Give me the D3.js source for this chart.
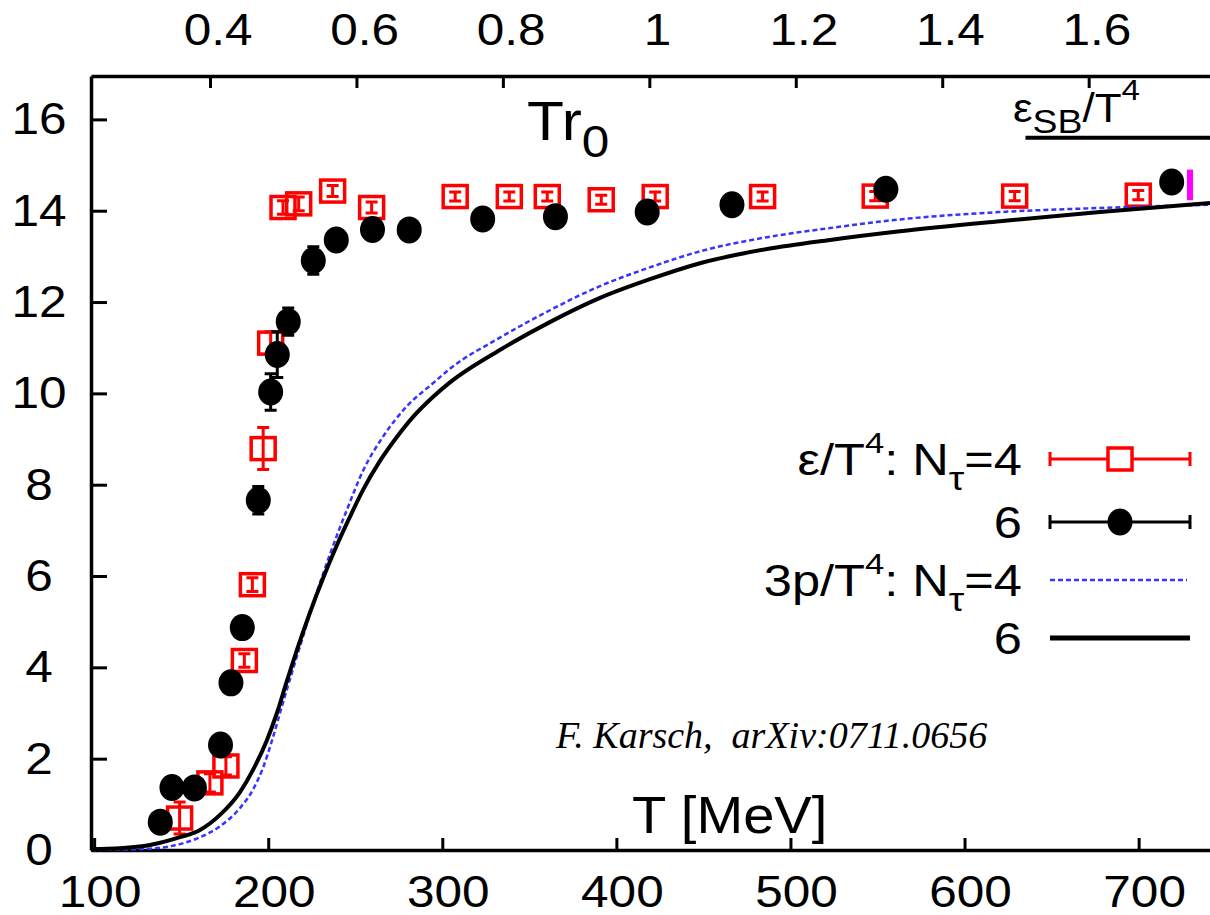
<!DOCTYPE html>
<html>
<head>
<meta charset="utf-8">
<script src="https://cdn.jsdelivr.net/npm/d3@7"></script>
<style>
body { margin: 0; background: #fff; }
svg text { font-family: "Liberation Sans", Arial, sans-serif; fill: #000; }
</style>
</head>
<body>
<script>
var width = 1210;
var height = 915;
var margin = {top: 76, right: 0, bottom: 65, left: 91};
var stretch = 1.1; // the original lettering is a bit wide

// eps/T^4, N_tau=4 (red open squares): T [MeV], value, error
var epsN4T   = [149.1, 166.5, 175.7, 186.3, 190.9, 197.1, 201.4, 208.5, 217.5, 237.0, 259.4, 307.4, 338.5, 360.3, 391.3, 422.3, 484.0, 548.7, 628.8, 699.8];
var epsN4Val = [0.70, 1.47, 1.84, 4.15, 5.81, 8.79, 11.10, 14.07, 14.15, 14.43, 14.07, 14.31, 14.31, 14.31, 14.24, 14.31, 14.31, 14.32, 14.32, 14.34];
var epsN4Err = [0.35, 0.20, 0.20, 0.15, 0.15, 0.46, 0.25, 0.15, 0.15, 0.12, 0.12, 0.10, 0.10, 0.10, 0.10, 0.10, 0.10, 0.10, 0.10, 0.10];

// eps/T^4, N_tau=6 (black dots)
var epsN6T   = [138.0, 144.7, 157.6, 172.6, 178.6, 185.1, 194.3, 201.4, 205.2, 211.5, 225.9, 239.1, 259.9, 281.0, 323.2, 365.0, 417.7, 466.4, 554.8, 719.0];
var epsN6Val = [0.61, 1.37, 1.36, 2.30, 3.66, 4.87, 7.66, 10.03, 10.85, 11.57, 12.91, 13.36, 13.59, 13.58, 13.82, 13.87, 13.97, 14.13, 14.47, 14.63];
var epsN6Err = [0.10, 0.10, 0.10, 0.20, 0.10, 0.15, 0.30, 0.40, 0.50, 0.30, 0.30, 0.15, 0.10, 0.10, 0.10, 0.10, 0.10, 0.10, 0.10, 0.10];

// 3p/T^4, N_tau=4 (blue dotted curve)
var pN4T   = [98.2, 132.1, 144.7, 160.8, 172.3, 183.8, 191.2, 197.0, 202.2, 207.9, 213.6, 219.4, 225.7, 235.5, 245.2, 254.4, 265.9, 279.7, 294.6, 304.4, 333.1, 361.8, 390.6, 419.3, 448.0, 486.5, 522.7, 562.9, 620.3, 677.8, 741.0];
var pN4Val = [0.00, 0.03, 0.09, 0.28, 0.52, 0.92, 1.32, 1.80, 2.40, 3.15, 3.88, 4.60, 5.38, 6.48, 7.45, 8.30, 9.05, 9.72, 10.22, 10.54, 11.22, 11.82, 12.35, 12.76, 13.11, 13.42, 13.62, 13.81, 13.97, 14.06, 14.13];

// 3p/T^4, N_tau=6 (black solid curve)
var pN6T   = [98.2, 114.8, 132.1, 149.3, 160.8, 172.3, 183.8, 191.2, 199.3, 205.0, 210.7, 216.5, 224.0, 231.5, 239.5, 247.0, 254.4, 264.2, 274.0, 283.1, 294.6, 304.4, 333.1, 361.8, 390.6, 419.3, 448.0, 486.5, 522.7, 562.9, 620.3, 677.8, 741.0];
var pN6Val = [0.02, 0.04, 0.11, 0.28, 0.44, 0.77, 1.27, 1.75, 2.41, 3.00, 3.70, 4.38, 5.20, 5.95, 6.68, 7.30, 7.88, 8.52, 9.05, 9.48, 9.92, 10.24, 10.95, 11.56, 12.09, 12.50, 12.85, 13.16, 13.36, 13.55, 13.77, 13.97, 14.17];

// Stefan-Boltzmann limit marker and the magenta bar at the right edge
var sbValue = 15.6;
var sbFromT = 635;
var magentaT = 729.5;
var magentaRange = [14.23, 14.9];

// axes
var xDomain = [98.2, 741];          // T [MeV]
var topDomain = [0.2375, 1.7657];   // T r0
var yDomain = [0, 16.95];
var xTicks = [100, 200, 300, 400, 500, 600, 700];
var topTicks = [0.4, 0.6, 0.8, 1.0, 1.2, 1.4, 1.6];
var topTickLabels = ["0.4", "0.6", "0.8", "1", "1.2", "1.4", "1.6"];
var yTicks = [0, 2, 4, 6, 8, 10, 12, 14, 16];

var svg = d3.select("body").append("svg")
    .attr("width", width)
    .attr("height", height);

var x = d3.scaleLinear().domain(xDomain).range([margin.left, width - margin.right]);
var xTop = d3.scaleLinear().domain(topDomain).range([margin.left, width - margin.right]);
var y = d3.scaleLinear().domain(yDomain).range([height - margin.bottom, margin.top]);

function styleAxis(g, size) {
  g.attr("font-family", "Liberation Sans, Arial, sans-serif").attr("font-size", size);
  g.select(".domain").attr("stroke-width", 3.5);
  g.selectAll(".tick line").attr("stroke-width", 3);
}

// bottom axis (T in MeV)
var gx = svg.append("g")
    .attr("transform", "translate(0," + y(0) + ")")
    .call(d3.axisBottom(x).tickValues(xTicks).tickSize(-12).tickSizeOuter(0).tickPadding(25));
styleAxis(gx, 45);
gx.selectAll("text").attr("transform", "scale(" + stretch + ",1)").attr("dx", 5);

// top axis (T r0)
var gt = svg.append("g")
    .attr("transform", "translate(0," + margin.top + ")")
    .call(d3.axisTop(xTop).tickValues(topTicks).tickSize(-12).tickSizeOuter(0).tickPadding(31)
      .tickFormat(function(d, i) { return topTickLabels[i]; }));
styleAxis(gt, 45);
gt.selectAll("text").attr("transform", "scale(" + stretch + ",1)").attr("dx", 7);

// left axis
var gy = svg.append("g")
    .attr("transform", "translate(" + margin.left + ",0)")
    .call(d3.axisLeft(y).tickValues(yTicks).tickSize(-16).tickSizeOuter(0));
styleAxis(gy, 45);
gy.selectAll("text")
    .attr("x", -52 / stretch)
    .attr("text-anchor", "middle")
    .attr("transform", "scale(" + stretch + ",1)");

// helper for free text with the slight horizontal stretch
function label(px, py, anchor, size, sx) {
  return svg.append("text")
    .attr("transform", "translate(" + px + "," + py + ") scale(" + (sx || stretch) + ",1)")
    .attr("text-anchor", anchor)
    .style("font-size", size + "px");
}

// red squares with error bars
var red = svg.append("g");
epsN4T.forEach(function(t, i) {
  var cx = x(t), cy = y(epsN4Val[i]);
  var y1 = y(epsN4Val[i] + epsN4Err[i]), y2 = y(epsN4Val[i] - epsN4Err[i]);
  red.append("path")
    .attr("d", "M" + cx + "," + y1 + "V" + y2 + "M" + (cx - 6) + "," + y1 + "h12M" + (cx - 6) + "," + y2 + "h12")
    .attr("stroke", "#ff0000").attr("stroke-width", 3).attr("fill", "none");
  red.append("rect")
    .attr("x", cx - 12).attr("y", cy - 11)
    .attr("width", 24).attr("height", 22)
    .attr("fill", "none").attr("stroke", "#ff0000").attr("stroke-width", 3.5);
});

// black dots with error bars
var blk = svg.append("g");
epsN6T.forEach(function(t, i) {
  var cx = x(t), cy = y(epsN6Val[i]);
  var y1 = y(epsN6Val[i] + epsN6Err[i]), y2 = y(epsN6Val[i] - epsN6Err[i]);
  blk.append("path")
    .attr("d", "M" + cx + "," + y1 + "V" + y2 + "M" + (cx - 6) + "," + y1 + "h12M" + (cx - 6) + "," + y2 + "h12")
    .attr("stroke", "#000").attr("stroke-width", 3).attr("fill", "none");
  blk.append("ellipse")
    .attr("cx", cx).attr("cy", cy)
    .attr("rx", 12.5).attr("ry", 13.5)
    .attr("fill", "#000");
});

var line = d3.line()
    .x(function(d) { return x(d[0]); })
    .y(function(d) { return y(d[1]); })
    .curve(d3.curveMonotoneX);

svg.append("path")
    .datum(d3.zip(pN4T, pN4Val))
    .attr("d", line)
    .attr("fill", "none")
    .attr("stroke", "#3535ff")
    .attr("stroke-width", 2.5)
    .attr("stroke-dasharray", "5,3");

svg.append("path")
    .datum(d3.zip(pN6T, pN6Val))
    .attr("d", line)
    .attr("fill", "none")
    .attr("stroke", "#000")
    .attr("stroke-width", 4);

// SB limit line and magenta bar
svg.append("line")
    .attr("x1", x(sbFromT)).attr("x2", x(xDomain[1]))
    .attr("y1", y(sbValue)).attr("y2", y(sbValue))
    .attr("stroke", "#000").attr("stroke-width", 4);
svg.append("line")
    .attr("x1", x(magentaT)).attr("x2", x(magentaT))
    .attr("y1", y(magentaRange[0])).attr("y2", y(magentaRange[1]))
    .attr("stroke", "#ff00ff").attr("stroke-width", 6);

// labels
var sb = label(1013, 122, "start", 40);
sb.append("tspan").text("ε");
sb.append("tspan").attr("dy", 11).style("font-size", "34px").text("SB");
sb.append("tspan").attr("dy", -11).text("/T");
sb.append("tspan").attr("dy", -22).style("font-size", "30px").text("4");

var tr = label(527, 140, "start", 55);
tr.append("tspan").text("Tr");
tr.append("tspan").attr("dy", 17).style("font-size", "45px").text("0");

label(632, 833, "start", 51).text("T [MeV]");

svg.append("text")
    .attr("x", 556).attr("y", 748)
    .style("font-family", "'Liberation Serif', 'Times New Roman', serif")
    .style("font-style", "italic")
    .style("font-size", "38px")
    .style("white-space", "pre")
    .text("F. Karsch,  arXiv:0711.0656");

// legend
var legX1 = 1050, legX2 = 1190, legTextX = 1022;
var legRowY = [459, 522, 580, 638];

function legendText(row, parts) {
  var t = label(legTextX, legRowY[row] + 16, "end", 44, 1.15);
  parts.forEach(function(p) {
    var s = t.append("tspan").text(p[0]);
    if (p[1]) s.attr("dy", p[1]);
    if (p[2]) s.style("font-size", p[2] + "px");
  });
}

legendText(0, [["ε/T"], ["4", -22, 30], [": N", 22], ["τ", 15, 34], ["=4", -15]]);
legendText(1, [["6"]]);
legendText(2, [["3p/T"], ["4", -22, 30], [": N", 22], ["τ", 15, 34], ["=4", -15]]);
legendText(3, [["6"]]);

var lg = svg.append("g");
[["#ff0000", legRowY[0]], ["#000", legRowY[1]]].forEach(function(r) {
  lg.append("path")
    .attr("d", "M" + legX1 + "," + r[1] + "H" + legX2 +
      "M" + legX1 + "," + (r[1] - 7) + "v14M" + legX2 + "," + (r[1] - 7) + "v14")
    .attr("stroke", r[0]).attr("stroke-width", 3).attr("fill", "none");
});
lg.append("rect")
    .attr("x", (legX1 + legX2) / 2 - 12).attr("y", legRowY[0] - 11)
    .attr("width", 24).attr("height", 22)
    .attr("fill", "#fff").attr("stroke", "#ff0000").attr("stroke-width", 3.5);
lg.append("ellipse")
    .attr("cx", (legX1 + legX2) / 2).attr("cy", legRowY[1])
    .attr("rx", 12.5).attr("ry", 13.5).attr("fill", "#000");
lg.append("line")
    .attr("x1", legX1).attr("x2", legX2 - 3)
    .attr("y1", legRowY[2]).attr("y2", legRowY[2])
    .attr("stroke", "#3535ff").attr("stroke-width", 2.5).attr("stroke-dasharray", "5,3");
lg.append("line")
    .attr("x1", legX1).attr("x2", legX2)
    .attr("y1", legRowY[3]).attr("y2", legRowY[3])
    .attr("stroke", "#000").attr("stroke-width", 5);
</script>
</body>
</html>
